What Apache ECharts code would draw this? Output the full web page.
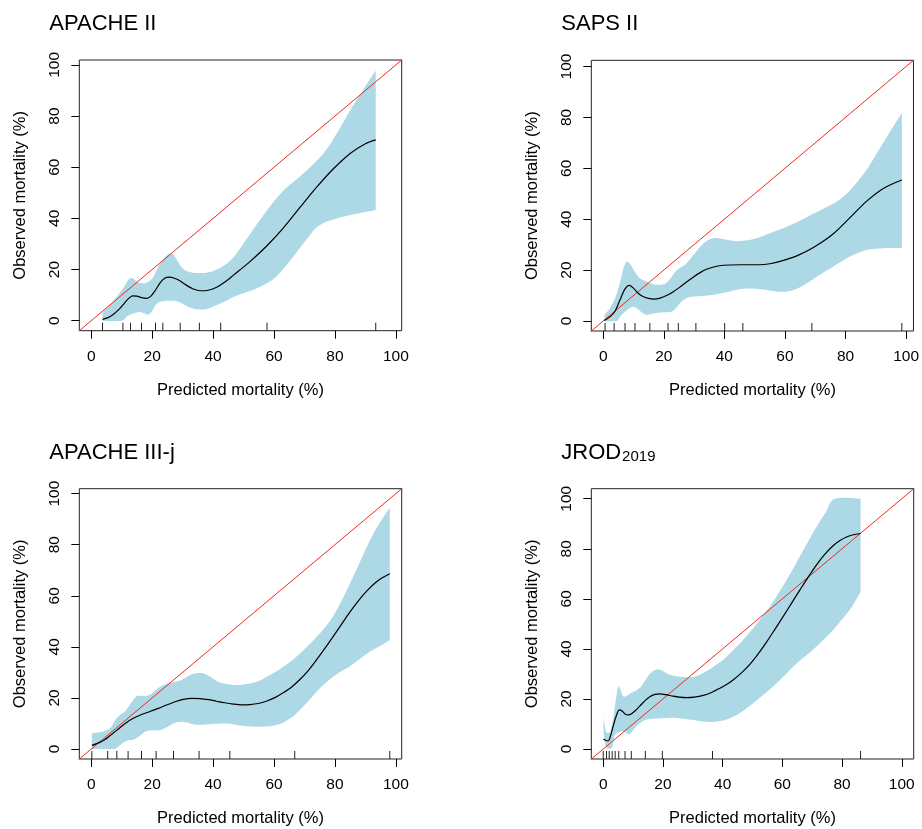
<!DOCTYPE html>
<html>
<head>
<meta charset="utf-8">
<script src="https://cdn.jsdelivr.net/npm/echarts@6/dist/echarts.min.js"></script>
<style>
html,body{margin:0;padding:0;background:#fff;}
#c{width:922px;height:829px;}
</style>
</head>
<body>
<div id="c"></div>
<script>
// ---------------- data ----------------
const xTicks = [0, 20, 40, 60, 80, 100];
const yTicks = [0, 20, 40, 60, 80, 100];
const titles = ['APACHE II', 'SAPS II', 'APACHE III-j', 'JROD'];
const jrodSubscript = '2019';
const xAxisName = 'Predicted mortality (%)';
const yAxisName = 'Observed mortality (%)';
// upper data limit of each panel (axes span limit with R's 4% padding)
const axisLimits = [98, 98.5, 98, 100];

const apache2Mean = [[3.7,0.5],[5.5,1.2],[7.2,2.4],[9,4.3],[10.5,6.3],[12.2,8.6],[13.6,9.7],[15,9.6],[16.5,9.0],[18.2,8.7],[19.6,9.6],[21,11.8],[22.6,14.8],[24,16.5],[25.6,17.0],[27.3,16.6],[29.1,15.6],[31.3,13.8],[33.5,12.4],[35.7,11.7],[38,11.8],[41.2,13.1],[44,15.2],[46.7,17.8],[52.1,23.1],[57.6,29.2],[63.1,36.3],[68.6,44.4],[74,52.2],[79.5,59.4],[85,65.4],[90,69.2],[93.4,70.7]];
const apache2Upper = [[3.7,3.2],[6,5.8],[8.3,9.2],[10.5,12.8],[12.2,16.0],[13.3,16.7],[14.3,16.0],[15.5,14.9],[17.1,14.6],[18.8,15.2],[20.3,17.0],[22,21.1],[24,24.6],[25.8,26.3],[27.3,25.3],[28.8,22.4],[30.5,19.9],[33,18.8],[36,18.6],[38.5,18.9],[42.3,20.6],[46.7,24.8],[52.1,33.8],[57.6,43],[63.1,50.9],[68.6,56.5],[72.9,61.2],[76.5,65.8],[79.5,71],[85,82.2],[90.5,92.6],[93.4,97.8]];
const apache2Lower = [[3.7,0],[10,0],[11.5,1.5],[13,2.4],[14.8,3.2],[16.2,3.4],[17.5,2.8],[18.7,2.4],[19.8,3.5],[21.5,6.6],[23.5,7.6],[26,7.8],[28,7.6],[30,6.6],[32,5.3],[34,4.6],[36.8,4.4],[39,5.0],[41.2,6.1],[44,7.6],[46.7,9.3],[50,10.7],[53.2,12],[57.6,14.6],[60.5,17],[63.1,20.3],[66,24.5],[68.6,28.6],[71.5,33],[74,36.5],[77,38.6],[79.5,39.6],[85,41.3],[93.4,43.3]];
const apache2Rug = [3.7, 10.4, 12.9, 16.5, 21.1, 23.5, 29.2, 35.5, 42.5, 57.7, 93.4];

const saps2Mean = [[0.4,0.2],[2.2,1.6],[3.9,3.8],[5.5,8.2],[7.2,12.6],[8.6,14.0],[9.9,13.0],[11.2,11.3],[12.8,9.8],[14.9,8.9],[16.8,8.6],[18.8,9.0],[20.9,10.0],[23,11.4],[25.3,13.3],[27.5,15.3],[29.7,17.2],[32,19],[34.1,20.3],[36.8,21.3],[39.6,21.9],[45.2,22.1],[51.8,22.1],[55,22.5],[58.4,23.4],[63.9,25.6],[69.4,28.9],[76,34.3],[81.5,40.6],[87,47.1],[92.5,52.1],[98.6,55.4]];
const saps2Upper = [[0.4,2.4],[2.2,5.0],[3.9,8.9],[5.3,14],[6.3,19],[7.2,22.5],[8,23.3],[9,22.2],[10.2,19.8],[11.6,17.4],[13,16.2],[14.3,15.5],[16,14.6],[17.6,14.2],[19.5,14.3],[20.9,15],[22.5,17.2],[24.2,19.8],[26,21.3],[27.5,22.7],[29.5,25.5],[32,29.2],[34.3,31.5],[36.3,32.5],[38.5,32.4],[40.7,31.9],[43.5,31.4],[46.3,31.5],[49,32],[51.8,33],[55,34.5],[59.5,36.4],[63.5,38.6],[67.2,40.8],[73.8,44.8],[77,46.8],[79.3,48.9],[82,52],[84.8,56],[87.5,60.3],[90.3,65.8],[94,73],[98.6,81.7]];
const saps2Lower = [[0.4,0],[4.4,0],[5.5,1.6],[6.6,3],[8.2,4.6],[9.9,5.6],[11,5],[12.1,4.0],[13.2,2.9],[14.3,2.4],[15.8,2.7],[17.6,3.1],[20,3.4],[22,3.5],[23.5,4.4],[24.8,6.2],[26.4,8.1],[28,9.2],[29.7,9.6],[35.2,10.1],[40.7,11.3],[44,12.3],[47.4,12.8],[51,12.6],[54,12.2],[57,11.6],[59.5,11.5],[62,11.9],[65,13.3],[67.8,15.2],[70.5,17.4],[76,21.4],[81.5,25.3],[87,27.9],[92.5,28.6],[98.6,28.6]];
const saps2Rug = [0.6, 3.6, 7.2, 10.5, 15.4, 21.4, 24.8, 30.6, 40.1, 46.1, 68.9, 98.6];

const apache3Mean = [[0.2,1.4],[2.8,2.6],[4.5,3.7],[6.1,5.2],[7.8,6.8],[9.4,8.3],[11.5,10.3],[13.8,12.0],[16.5,13.5],[19.3,14.7],[22,15.9],[24.7,17.2],[27.5,18.5],[30.2,19.4],[33,19.8],[35.7,19.7],[38.5,19.3],[41.1,18.7],[43.8,18.1],[46.6,17.6],[49.3,17.3],[52.1,17.4],[54.8,17.8],[57.5,18.7],[60.3,20.1],[63,22],[65.8,24.3],[68.5,27.2],[71.3,30.8],[74,35],[76.7,39.4],[79.4,44],[82.2,48.9],[84.9,53.6],[87.7,58],[90.4,61.8],[94,65.8],[98,68.6]];
const apache3Upper = [[0.2,6.2],[2.8,6.6],[5.6,7.5],[7,9.5],[8.3,12.0],[9.7,13.5],[11.1,14.7],[12.8,17.5],[14.5,20.3],[16,20.8],[18.2,20.8],[20,21.8],[22.5,24.3],[25,25.6],[28,26.4],[30.3,27.4],[32.4,29],[34.5,29.7],[36.8,29.6],[39,28.4],[42.2,26],[46.6,25.1],[49,25.1],[52.1,25.6],[55,26.6],[57.5,28.2],[60.3,30],[63,32.2],[65.8,34.6],[68.5,37.4],[71.3,40.5],[74,43.9],[76.7,47.6],[79.4,52],[82.2,58],[84.9,64.7],[87.7,71.8],[90.4,79],[94,87.2],[98,94.5]];
const apache3Lower = [[0.2,0],[7.2,0],[8.5,0.6],[10.5,2.4],[12.2,3.4],[13.8,3.6],[15.5,4.8],[17,6.2],[18.2,7],[20.3,7.3],[22.5,7.3],[24.5,8.3],[26.3,9.6],[28,10.5],[30,10.7],[31.8,10.3],[33.5,9.7],[36,9.5],[40,9.8],[43,10],[45.5,9.9],[48,9.4],[52.1,8.8],[57.5,8.8],[60.3,9.3],[63,10.3],[65.8,12.3],[68.5,15.3],[71.3,18.8],[74,22.5],[76.7,25.6],[79.4,28.3],[82.2,30.5],[84.9,32.4],[90.4,37.2],[94,39.8],[98,42.6]];
const apache3Rug = [0.2, 5.4, 8.4, 12.1, 16.5, 21.3, 27.0, 35.4, 45.5, 66.8, 98.0];

const jrodMean = [[0.1,4.0],[0.9,3.4],[1.7,3.3],[2.5,5.5],[3.3,9.0],[4.3,13],[5.4,15.6],[6.3,15.2],[7.3,14.0],[8.4,13.6],[9.5,14.1],[11,15.6],[12.3,17.2],[14,19.3],[15.6,20.9],[17.3,21.8],[19,22],[21,21.7],[23.4,21.1],[25.5,20.7],[27.9,20.5],[30.5,20.7],[33.5,21.4],[36.3,22.6],[39.1,24.3],[41.3,25.8],[43.5,27.6],[46.3,30.4],[49.1,33.8],[51.9,38],[54.7,42.7],[57.5,47.8],[60.3,53],[63.1,58.3],[65.8,63.4],[68.6,68.6],[71.4,73.5],[74.2,77.8],[77,81.2],[79.3,83.3],[81.5,84.7],[83.8,85.6],[86.2,86.1]];
const jrodUpper = [[0.1,12.8],[0.5,9.5],[0.9,7],[1.7,6.4],[2.5,7.5],[3.3,12],[3.9,17],[4.5,22],[5,24.9],[5.6,24.3],[6.3,21.8],[7,20.9],[8.2,21.5],[9.5,22.5],[11,23.4],[12.3,24.5],[13.5,26.5],[14.6,28.5],[15.7,30.2],[17,31.4],[18.3,31.8],[19.5,31.5],[21.2,30.3],[22.8,29.5],[24.6,29.1],[27,28.8],[30.1,28.8],[33.5,30.4],[36.8,32.8],[40.2,35.7],[43.5,39.5],[46.8,43.5],[50.2,48.2],[53.5,53.2],[56.9,58.8],[59.2,63.2],[61.4,67.5],[63.6,72],[65.8,76.8],[68.6,82.8],[71.4,88.7],[74.5,94.5],[77.6,100],[86.2,100]];
const jrodLower = [[0.1,6.4],[0.6,2.5],[1.1,0.4],[2.8,0.4],[3.3,2.5],[3.9,5.6],[5,6.6],[6.7,7],[7.7,6.5],[8.4,5.8],[9.2,6.3],[10,7.5],[11.2,9.2],[12.3,10.3],[14.5,11.8],[17.9,12.2],[21,12.4],[24.6,12.4],[27.5,12],[30.1,11.6],[33.5,11],[36.8,10.8],[40.2,11.4],[43.5,12.9],[46.8,15.2],[50.2,18.3],[53.5,21.5],[56.9,25],[60.3,28.9],[63.6,32.9],[66.9,36.4],[70.3,39.7],[73.6,43.4],[77,47.5],[79.8,51.5],[82.6,55.6],[84.5,59.2],[86.2,62.8]];
const jrodRug = [0.0, 1.1, 2.0, 3.0, 4.0, 5.2, 7.3, 9.4, 14.1, 19.8, 36.6, 86.2];

// ---------------- layout / style ----------------
const FONT = '"Liberation Sans", Arial, Helvetica, sans-serif';
const BAND = '#ADD8E6';
const layout = [
  {left: 79.3, top: 60, width: 322.4, height: 270.7},
  {left: 591.3, top: 60.3, width: 322.4, height: 270.7},
  {left: 79.3, top: 488.7, width: 322.4, height: 270.3},
  {left: 591.3, top: 488.7, width: 322.4, height: 270.3}
];
const panelData = [
  {mean: apache2Mean, upper: apache2Upper, lower: apache2Lower, rug: apache2Rug},
  {mean: saps2Mean, upper: saps2Upper, lower: saps2Lower, rug: saps2Rug},
  {mean: apache3Mean, upper: apache3Upper, lower: apache3Lower, rug: apache3Rug},
  {mean: jrodMean, upper: jrodUpper, lower: jrodLower, rug: jrodRug}
];

function crPath(pts, move) {
  let d = (move ? 'M' : 'L') + pts[0][0] + ' ' + pts[0][1];
  for (let i = 0; i < pts.length - 1; i++) {
    const p0 = pts[i - 1] || pts[i], p1 = pts[i], p2 = pts[i + 1], p3 = pts[i + 2] || pts[i + 1];
    const t = 1 / 6;
    const c1x = p1[0] + (p2[0] - p0[0]) * t, c1y = p1[1] + (p2[1] - p0[1]) * t;
    const c2x = p2[0] - (p3[0] - p1[0]) * t, c2y = p2[1] - (p3[1] - p1[1]) * t;
    d += ' C' + c1x + ' ' + c1y + ' ' + c2x + ' ' + c2y + ' ' + p2[0] + ' ' + p2[1];
  }
  return d;
}

const grids = [], xAxes = [], yAxes = [], series = [], graphics = [];
layout.forEach((L, i) => {
  const lim = axisLimits[i];
  const min = -0.04 * lim, max = 1.04 * lim;
  const D = panelData[i];
  grids.push({left: L.left, top: L.top, width: L.width, height: L.height, show: true,
    borderColor: '#222', borderWidth: 1, backgroundColor: 'transparent', containLabel: false});
  xAxes.push({type: 'value', gridIndex: i, min: min, max: max, position: 'bottom',
    axisLine: {show: false, onZero: false}, splitLine: {show: false},
    axisTick: {show: true, inside: false, length: 8, customValues: xTicks, lineStyle: {color: '#000', width: 1}},
    axisLabel: {customValues: xTicks, margin: 18, fontSize: 15.5, color: '#000', fontFamily: FONT}
  });
  yAxes.push({type: 'value', gridIndex: i, min: min, max: max, position: 'left',
    axisLine: {show: false, onZero: false}, splitLine: {show: false},
    axisTick: {show: true, inside: false, length: 8, customValues: yTicks, lineStyle: {color: '#000', width: 1}},
    axisLabel: {customValues: yTicks, margin: 17, rotate: 90, fontSize: 15.5, color: '#000', fontFamily: FONT}
  });
  // confidence band
  series.push({type: 'custom', xAxisIndex: i, yAxisIndex: i, silent: true, z: 1,
    data: [[0, 0]],
    renderItem: function (params, api) {
      const up = D.upper.map(p => api.coord(p));
      const lo = D.lower.map(p => api.coord(p)).reverse();
      const d = crPath(up, true) + ' ' + crPath(lo, false) + ' Z';
      return {type: 'path', shape: {pathData: d}, style: {fill: BAND, stroke: null}};
    }
  });
  // identity line
  series.push({type: 'line', xAxisIndex: i, yAxisIndex: i, silent: true, z: 3,
    data: [[min - 5, min - 5], [max + 5, max + 5]], clip: true,
    symbol: 'none', lineStyle: {color: '#ee2a1c', width: 1}});
  // smoothed calibration curve
  series.push({type: 'line', xAxisIndex: i, yAxisIndex: i, silent: true, z: 4,
    data: D.mean, smooth: 0.3, symbol: 'none', lineStyle: {color: '#000', width: 1.2}});
  // rug
  series.push({type: 'custom', xAxisIndex: i, yAxisIndex: i, silent: true, z: 5,
    data: D.rug.map(v => [v, min]),
    renderItem: function (params, api) {
      const p = api.coord([api.value(0), api.value(1)]);
      return {type: 'line', shape: {x1: p[0], y1: p[1], x2: p[0], y2: p[1] - 8},
        style: {stroke: '#222', lineWidth: 1}};
    }
  });
  // axis titles
  graphics.push({type: 'text', x: L.left + L.width / 2, y: L.top + L.height + 59.8,
    style: {text: xAxisName, fontSize: 16.5, fontFamily: FONT, fill: '#000', align: 'center', verticalAlign: 'middle'}});
  graphics.push({type: 'text', x: L.left - 59, y: L.top + L.height / 2, rotation: Math.PI / 2,
    style: {text: yAxisName, fontSize: 16.5, fontFamily: FONT, fill: '#000', align: 'center', verticalAlign: 'middle'}});
  // panel titles
  graphics.push({type: 'text', x: L.left - 30, y: L.top - 36,
    style: {text: titles[i], fontSize: 22, fontFamily: FONT, fill: '#000', align: 'left', verticalAlign: 'middle'}});
  if (i === 3) {
    graphics.push({type: 'text', x: L.left + 30.8, y: L.top - 31.5,
      style: {text: jrodSubscript, fontSize: 15, fontFamily: FONT, fill: '#000', align: 'left', verticalAlign: 'middle'}});
  }
});

const chart = echarts.init(document.getElementById('c'), null, {renderer: 'canvas'});
chart.setOption({
  animation: false,
  backgroundColor: '#fff',
  grid: grids,
  xAxis: xAxes,
  yAxis: yAxes,
  series: series,
  graphic: graphics
});
</script>
</body>
</html>
